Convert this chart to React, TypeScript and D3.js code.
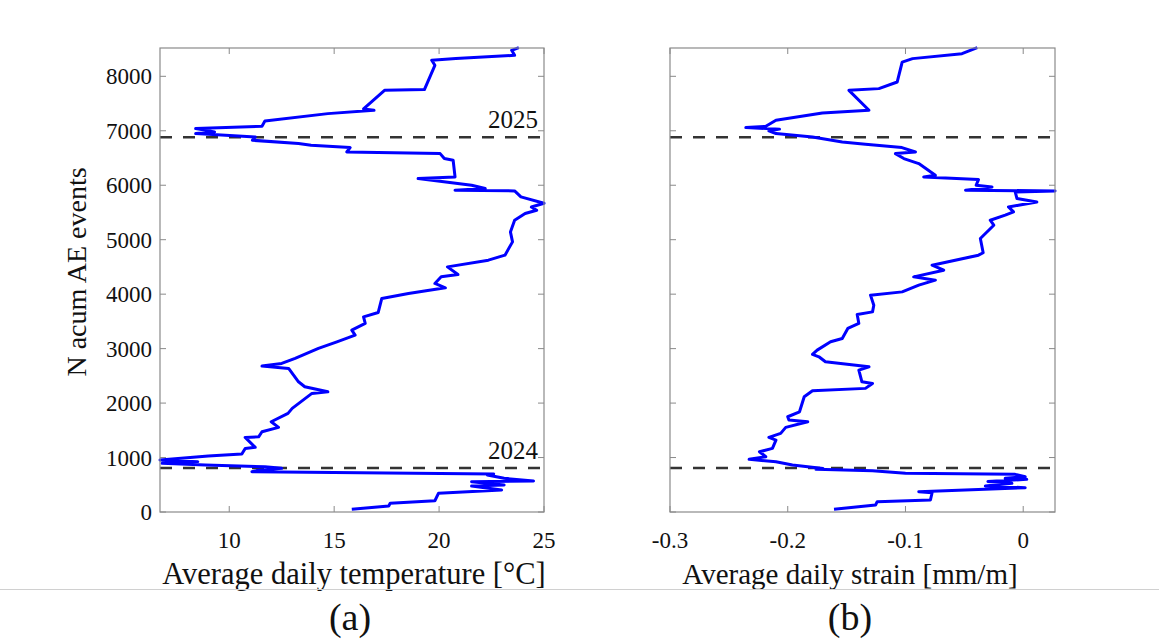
import React from "react";
import * as d3 from "d3";

const tempSeries: [number, number][] = [
  [15.84, 50], [17.6, 110], [17.67, 160], [19.8, 207], [19.97, 343], [22.98, 404], [21.55, 477], [23.1, 495],
  [21.55, 556], [24.5, 569], [23.1, 618], [22.3, 679], [22.6, 700], [11.08, 740], [11.3, 760], [12.5, 802],
  [11.7, 832], [8.86, 862], [6.8, 893], [8.5, 925], [6.7, 954], [9.0, 1028], [10.6, 1064], [10.76, 1168],
  [11.24, 1187], [10.76, 1370], [11.4, 1380], [11.56, 1473], [12.35, 1554], [12.0, 1657], [12.8, 1811],
  [13.0, 1903], [13.94, 2178], [14.7, 2207], [13.6, 2300], [13.3, 2391], [12.83, 2636], [11.56, 2679],
  [12.5, 2728], [13.14, 2820], [14.25, 3003], [15.13, 3125], [16.0, 3248], [15.84, 3339], [16.48, 3462],
  [16.4, 3583], [17.1, 3664], [17.27, 3921], [18.54, 4013], [20.3, 4116], [19.8, 4196], [20.1, 4318],
  [20.9, 4361], [20.4, 4501], [22.35, 4624], [23.14, 4716], [23.5, 4960], [23.4, 5143], [23.6, 5358],
  [24.1, 5480], [24.65, 5541], [24.4, 5600], [25.0, 5670], [23.9, 5786], [23.6, 5896], [20.76, 5908],
  [22.2, 5939], [21.55, 6000], [19.0, 6122], [20.76, 6153], [20.67, 6459], [20.25, 6490], [20.05, 6581],
  [15.6, 6611], [15.76, 6691], [13.9, 6734], [13.3, 6765], [11.1, 6826], [11.24, 6887], [8.4, 6948],
  [9.3, 6980], [8.4, 7040], [11.56, 7083], [11.7, 7180], [14.7, 7315], [16.9, 7376], [16.4, 7400],
  [17.4, 7743], [19.3, 7756], [19.8, 8202], [19.65, 8294], [20.8, 8325], [23.6, 8385], [23.46, 8477],
  [23.8, 8527],
];

const strainSeries: [number, number][] = [
  [-0.1607, 50], [-0.1254, 128], [-0.124, 189], [-0.0788, 220], [-0.0774, 354], [-0.0887, 373], [0.0017, 446],
  [-0.0322, 477], [-0.0096, 526], [-0.03, 560], [0.003, 600], [-0.0153, 618], [0.0017, 648], [-0.0068, 691],
  [-0.1, 710], [-0.128, 758], [-0.176, 783], [-0.17, 800], [-0.196, 862], [-0.21, 923], [-0.2328, 967],
  [-0.2186, 1015], [-0.224, 1106], [-0.213, 1168], [-0.21, 1321], [-0.216, 1370], [-0.206, 1444],
  [-0.2017, 1554], [-0.183, 1657], [-0.199, 1688], [-0.2, 1749], [-0.19, 1840], [-0.186, 2116],
  [-0.179, 2226], [-0.134, 2270], [-0.128, 2361], [-0.137, 2390], [-0.1396, 2606], [-0.131, 2667],
  [-0.168, 2758], [-0.1735, 2850], [-0.179, 2893], [-0.175, 2972], [-0.1636, 3125], [-0.1537, 3187],
  [-0.149, 3370], [-0.1396, 3462], [-0.141, 3627], [-0.128, 3675], [-0.1269, 3798], [-0.1297, 3982],
  [-0.1028, 4042], [-0.0887, 4165], [-0.0746, 4257], [-0.093, 4318], [-0.0675, 4440], [-0.0774, 4532],
  [-0.038, 4716], [-0.034, 4760], [-0.0364, 5022], [-0.025, 5266], [-0.028, 5358], [-0.0153, 5450],
  [-0.0082, 5510], [-0.0125, 5602], [-0.004, 5633], [0.0116, 5694], [-0.0053, 5755], [-0.0068, 5877],
  [0.027, 5896], [-0.049, 5908], [-0.0265, 5969], [-0.04, 6000], [-0.038, 6104], [-0.0845, 6153],
  [-0.0746, 6183], [-0.0887, 6398], [-0.1014, 6490], [-0.1085, 6581], [-0.0915, 6611], [-0.103, 6691],
  [-0.134, 6752], [-0.1537, 6795], [-0.179, 6887], [-0.21, 6948], [-0.216, 6997], [-0.207, 7030],
  [-0.2356, 7059], [-0.2186, 7083], [-0.21, 7193], [-0.1706, 7327], [-0.131, 7376], [-0.148, 7743],
  [-0.1226, 7774], [-0.107, 7896], [-0.1028, 8262], [-0.094, 8325], [-0.052, 8416], [-0.039, 8527],
];

const yTicks = [0, 1000, 2000, 3000, 4000, 5000, 6000, 7000, 8000];
const tempTicks = [10, 15, 20, 25];
const strainTicks = [-0.3, -0.2, -0.1, 0];
const strainTickLabels = ["-0.3", "-0.2", "-0.1", "0"];
const yearLines = [
  { n: 807, label: "2024" },
  { n: 6881, label: "2025" },
];
const yDomain: [number, number] = [0, 8520];
const tempDomain: [number, number] = [6.7, 25];
const strainDomain: [number, number] = [-0.3, 0.027];

const FONT = "'Liberation Serif', 'Times New Roman', serif";
const TOP = 48;
const BOTTOM = 512;
const TICK = 6;
const AXIS = "#8a8a8a";

function Panel(props: {
  x0: number;
  x1: number;
  domain: [number, number];
  data: [number, number][];
  ticks: number[];
  tickLabels: string[];
  showY: boolean;
  showYears: boolean;
}) {
  const { x0, x1, domain, data, ticks, tickLabels, showY, showYears } = props;
  const xs = d3.scaleLinear().domain(domain).range([x0, x1]);
  const ys = d3.scaleLinear().domain(yDomain).range([BOTTOM, TOP]);
  const line = d3
    .line<[number, number]>()
    .x((d) => xs(d[0]))
    .y((d) => ys(d[1]));
  return (
    <g>
      {yearLines.map((yl) => (
        <line
          key={yl.label}
          x1={x0}
          x2={x1}
          y1={ys(yl.n)}
          y2={ys(yl.n)}
          stroke="#333"
          strokeWidth={2.6}
          strokeDasharray="12 11"
        />
      ))}
      {showYears &&
        yearLines.map((yl) => (
          <text
            key={"t" + yl.label}
            x={x1 - 6}
            y={ys(yl.n) - 9}
            textAnchor="end"
            fontFamily={FONT}
            fontSize={25}
            fill="#111"
          >
            {yl.label}
          </text>
        ))}
      <path d={line(data) || ""} fill="none" stroke="#0000ff" strokeWidth={3} strokeLinejoin="round" />
      <rect x={x0} y={TOP} width={x1 - x0} height={BOTTOM - TOP} fill="none" stroke={AXIS} strokeWidth={1.2} />
      {yTicks.map((t) => (
        <g key={"y" + t}>
          <line x1={x0} x2={x0 + TICK} y1={ys(t)} y2={ys(t)} stroke={AXIS} strokeWidth={1} />
          <line x1={x1} x2={x1 - TICK} y1={ys(t)} y2={ys(t)} stroke={AXIS} strokeWidth={1} />
          {showY && (
            <text
              x={x0 - 8}
              y={ys(t)}
              dy="0.35em"
              textAnchor="end"
              fontFamily={FONT}
              fontSize={23}
              fill="#111"
            >
              {t}
            </text>
          )}
        </g>
      ))}
      {ticks.map((t, i) => (
        <g key={"x" + i}>
          <line x1={xs(t)} x2={xs(t)} y1={BOTTOM} y2={BOTTOM - TICK} stroke={AXIS} strokeWidth={1} />
          <line x1={xs(t)} x2={xs(t)} y1={TOP} y2={TOP + TICK} stroke={AXIS} strokeWidth={1} />
          <text x={xs(t)} y={548} textAnchor="middle" fontFamily={FONT} fontSize={23} fill="#111">
            {tickLabels[i]}
          </text>
        </g>
      ))}
    </g>
  );
}

export default function App() {
  return (
    <svg
      width={1159}
      height={639}
      style={{ position: "absolute", left: 0, top: 0, background: "#fff" }}
    >
      <rect x={0} y={0} width={1159} height={639} fill="#fff" />
      <Panel
        x0={160}
        x1={544}
        domain={tempDomain}
        data={tempSeries}
        ticks={tempTicks}
        tickLabels={tempTicks.map(String)}
        showY={true}
        showYears={true}
      />
      <Panel
        x0={670}
        x1={1055}
        domain={strainDomain}
        data={strainSeries}
        ticks={strainTicks}
        tickLabels={strainTickLabels}
        showY={false}
        showYears={false}
      />
      <text
        transform="translate(86,272) rotate(-90)"
        textAnchor="middle"
        fontFamily={FONT}
        fontSize={28}
        fill="#111"
      >
        N acum AE events
      </text>
      <text x={354} y={584} textAnchor="middle" fontFamily={FONT} fontSize={30.5} fill="#111">
        Average daily temperature [°C]
      </text>
      <text x={850} y={584} textAnchor="middle" fontFamily={FONT} fontSize={29} fill="#111">
        Average daily strain [mm/m]
      </text>
      <line x1={0} x2={1159} y1={589.5} y2={589.5} stroke="#d0d0d0" strokeWidth={1} />
      <text x={350} y={630} textAnchor="middle" fontFamily={FONT} fontSize={38} fill="#111">
        (a)
      </text>
      <text x={850} y={630} textAnchor="middle" fontFamily={FONT} fontSize={38} fill="#111">
        (b)
      </text>
    </svg>
  );
}
